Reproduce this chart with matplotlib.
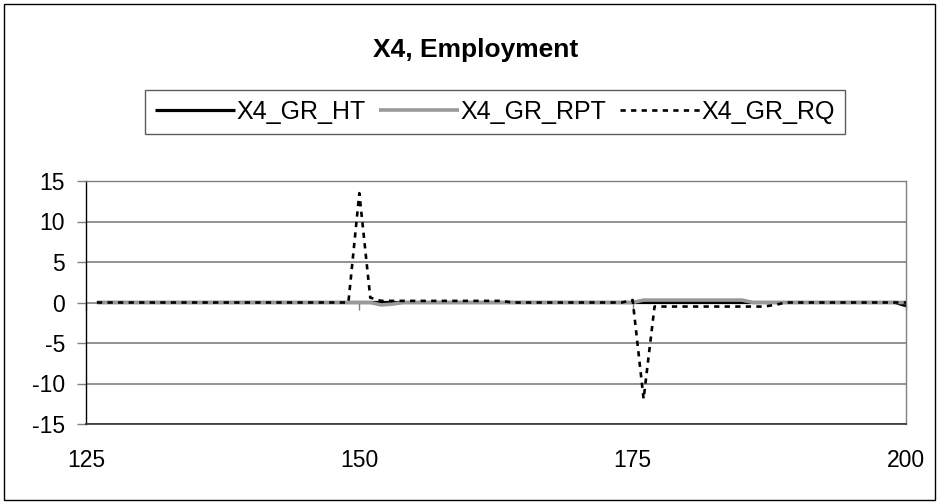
import matplotlib
matplotlib.use("Agg")
import matplotlib.pyplot as plt
from matplotlib.patches import Rectangle

# periods 126..200, one value per period
periods = list(range(126, 201))

gr_ht = [
    0, 0, 0, 0, 0, 0, 0, 0, 0, 0, 0, 0, 0, 0, 0,
    0, 0, 0, 0, 0, 0, 0, 0, 0, 0, 0, 0, 0, 0, 0,
    0, 0, 0, 0, 0, 0, 0, 0, 0, 0, 0, 0, 0, 0, 0,
    0, 0, 0, 0, 0, 0, 0, 0, 0, 0, 0, 0, 0, 0, 0,
    0, 0, 0, 0, 0, 0, 0, 0, 0, 0, 0, 0, 0, 0, -0.4,
]
gr_rpt = [
    0, 0, 0, 0, 0, 0, 0, 0, 0, 0, 0, 0, 0, 0, 0,
    0, 0, 0, 0, 0, 0, 0, 0, 0, 0, 0, -0.3, -0.2, 0, 0,
    0, 0, 0, 0, 0, 0, 0, 0, 0, 0, 0, 0, 0, 0, 0,
    0, 0, 0, 0, 0, 0.3, 0.3, 0.3, 0.3, 0.3, 0.3, 0.3, 0.3, 0.3, 0.3,
    0, 0, 0, 0, 0, 0, 0, 0, 0, 0, 0, 0, 0, 0, 0,
]
gr_rq = [
    0, 0, 0, 0, 0, 0, 0, 0, 0, 0, 0, 0, 0, 0, 0,
    0, 0, 0, 0, 0, 0, 0, 0, 0, 13.5, 0.6, 0.2, 0.2, 0.2, 0.2,
    0.2, 0.2, 0.2, 0.2, 0.2, 0.2, 0.2, 0.2, 0, 0, 0, 0, 0, 0, 0,
    0, 0, 0, 0, 0.3, -11.9, -0.5, -0.5, -0.5, -0.5, -0.5, -0.5, -0.5, -0.5, -0.5,
    -0.5, -0.5, -0.3, 0, 0, 0, 0, 0, 0, 0, 0, 0, 0, 0, 0,
]

x_ticks = [125, 150, 175, 200]
y_ticks = [-15, -10, -5, 0, 5, 10, 15]

plt.rcParams['font.family'] = ['Liberation Sans', 'DejaVu Sans']
plt.rcParams['axes.unicode_minus'] = False

fig = plt.figure(figsize=(9.4, 5.04), dpi=100)
ax = fig.add_axes([86 / 940, 1 - 424 / 504, 820 / 940, 243 / 504])

# outer chart border
fig.patches.append(Rectangle((4 / 940, 4 / 504), 931 / 940, 496 / 504,
                             transform=fig.transFigure, fill=False,
                             edgecolor='black', linewidth=1.0))

ax.plot(periods, gr_ht, color='black', linewidth=2.3, label='X4_GR_HT',
        solid_capstyle='butt', zorder=3)
ax.plot(periods, gr_rpt, color='#999999', linewidth=2.6, label='X4_GR_RPT',
        solid_capstyle='butt', zorder=4)
ax.plot(periods, gr_rq, color='black', linewidth=1.9, label='X4_GR_RQ',
        dashes=(2.0, 2.0), zorder=5)

ax.set_xlim(125, 200)
ax.set_ylim(-15, 15)
ax.set_xticks(x_ticks)
ax.set_yticks(y_ticks)
ax.grid(axis='y', color='#808080', linewidth=1.2)
ax.set_axisbelow(True)

for side in ['top', 'right']:
    ax.spines[side].set_color('#808080')
    ax.spines[side].set_linewidth(1.0)
ax.spines['left'].set_color('black')
ax.spines['left'].set_linewidth(1.0)
ax.spines['bottom'].set_color('#333333')
ax.spines['bottom'].set_linewidth(1.2)

ax.tick_params(axis='x', length=0, pad=18, labelsize=16.5)
ax.tick_params(axis='y', direction='out', length=6.5, width=1.0,
               color='#808080', pad=8.5, labelsize=16.5)

# tick marks of the x axis sit on the zero line, pointing down
zero_axis = ax.secondary_xaxis(0.5)
zero_axis.set_xticks(x_ticks)
zero_axis.xaxis.set_ticks_position('bottom')
zero_axis.tick_params(axis='x', direction='out', length=5, width=1.0,
                      color='#808080', top=False, bottom=True,
                      labeltop=False, labelbottom=False)
for side in zero_axis.spines:
    zero_axis.spines[side].set_visible(False)

fig.text(476 / 940, 1 - 50 / 504, 'X4, Employment', ha='center', va='center',
         fontsize=19, fontweight='bold')

leg = ax.legend(loc='center', bbox_to_anchor=(495 / 940, 1 - 112 / 504),
                bbox_transform=fig.transFigure, ncol=3, fontsize=18,
                frameon=True, fancybox=False, handlelength=3.2,
                handletextpad=0.05, columnspacing=0.55, borderpad=0.4,
                borderaxespad=0)
leg.get_frame().set_edgecolor('#333333')
leg.get_frame().set_linewidth(1.0)

fig.savefig('out.png', dpi=100)
